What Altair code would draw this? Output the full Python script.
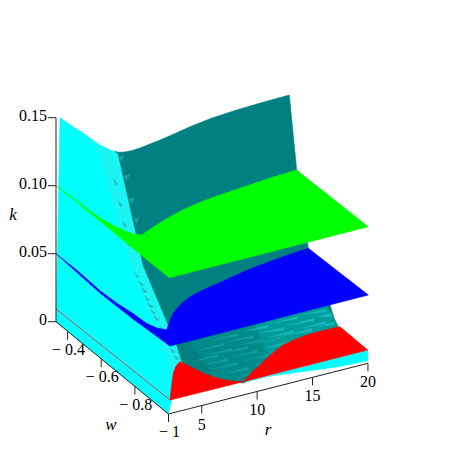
import altair as alt
import pandas as pd

W, H = 447, 456

# Projected outlines of the surfaces (picture coordinates of the 3D view)
cyan_wall = [(60,117.7),(72,126),(83,133),(92,139.5),(100,145),(108,149),(115,151.7),(118,153),(143,265),(176.7,345),(181,362),(172,398),(168.5,414),(56,321.7)]
cyan_shade = [(95,142),(100,145),(108,149),(115,151.7),(118,153),(143,265),(176.7,345),(181,362),(174,380),(155,325),(128,255)]
teal_wall = [(115,151.7),(120,152.3),(125,152),(132,150.5),(140,148),(150,144),(160,140),(175,133.5),(190,126.7),(212,118),(236.7,110),(262,102.5),(289.3,95),(296.7,170),(308.3,248.3),(325,295),(330,305),(334,318),(338.3,326.7),(320,345),(243.3,383),(200,378),(181.7,361.7),(176.7,345),(143,265),(118,153)]
teal_mid = [(190,342),(327,305),(338,327),(243,382),(215,378)]
teal_light = [(255,325),(327,305),(338,327),(290,350),(270,358)]
red_left = [(170,400),(171.5,386),(173.3,373),(176,366),(180,361.7),(186,364.5),(193,368),(205,374),(216.7,378),(230,381),(243.3,381.7)]
red_right = [(243.3,381.7),(251,373),(260,365),(271,354.5),(283,345),(296,339),(310,334),(325,330),(340,326.7),(367.7,350)]
cyan_strip = [(367.7,350),(368,360.7),(338,366.7),(300,372),(270,376),(245,382)]
blue_sheet = [(56,253.7),(76.7,270),(88,280),(100,290.7),(118,304),(133,313.5),(146,323),(156.7,328),(166.7,330),(169,323),(173.3,313),(181,304),(190,296.7),(203,290),(216.7,284),(232,277),(250,269),(278,258.5),(308.3,248.3),(368.3,295),(170,346),(133,319),(100,293)]
green_sheet = [(56.7,186),(78,202),(100,218),(118,228),(133.3,234),(141.7,235),(155,226),(170,216.7),(185,209),(202,201.5),(220,195),(245,186.5),(270,178),(296.7,170),(368.3,226.7),(169.3,277.7),(138,252.5),(118,236),(100,221)]
red_line = [(56,309),(170,400)]

# Thin facets of the shaded mesh: three projected corners each
facets_left = [
    (210,341,238,333,238,336),(195,351,224,343,224,346),(205,355,232,348,232,351),
    (190,362,218,354,218,357),(222,353,248,346,248,349),(200,366,228,358,228,361),
    (212,369,238,362,238,365),(222,374,248,367,248,370),(232,378,256,371,256,374),
    (226,342,254,335,254,338),(236,346,262,339,262,342),(232,357,258,350,258,353),
    (242,361,268,354,268,357),(252,345,280,337,280,340),
]
facets_right = [
    (240,332,268,325,268,328),(270,324,298,316,298,319),(300,315,326,309,326,312),
    (256,334,284,327,284,330),(286,326,314,318,314,321),(316,317,332,313,332,317),
    (266,338,294,330,294,333),(298,329,326,321,326,324),(284,336,312,328,312,331),
    (315,327,334,322,334,325),(262,349,290,341,290,344),(294,340,322,332,322,335),
    (272,353,300,345,300,348),(252,366,278,359,278,362),(282,358,306,350,306,353),
    (260,370,282,363,282,366),
]
facets_edge = [
    (118,157,124,155,122,162),(123,176,130,174,127,181),(128,199,135,197,132,204),(133,219,139,217,137,224),
]
facets_wall = [
    (134,272,140,277,137,278),(141,287,148,292,144,293),(147,302,154,307,150,308),
    (153,315,160,320,156,321),(159,326,165,330,162,331),(170,348,176,352,172,353),
    (174,355,180,359,176,360),(138,280,144,285,141,286),(144,295,150,300,147,301),
    (150,309,156,313,153,314),(127,240,132,246,129,247),(122,220,127,226,124,227),
    (118,200,123,206,120,207),(113,178,118,184,115,185),
]

# Axes: tick values
k_ticks = [0, 0.05, 0.10, 0.15]
k_labels = ["0", "0.05", "0.10", "0.15"]
w_ticks = [-0.4, -0.6, -0.8, -1.0]
w_labels = ["\u2212 0.4", "\u2212 0.6", "\u2212 0.8", "\u2212 1"]
r_ticks = [5, 10, 15, 20]
r_labels = ["5", "10", "15", "20"]
titles = ["k", "w", "r"]
title_x = [13, 111, 268]
title_y = [215, 425, 430]

SERIF = "Liberation Serif"
def kp(k): return 56.0, 321.7 - k * 1360
def wp(w): return 168.5 - (w + 1) * 168.2, 414 - (w + 1) * 137
def rp(r): return 168.5 + (r - 2) * 11.08, 414 - (r - 2) * 2.817

xs = alt.Scale(domain=[8, 8 + W], range=[0, W], nice=False, zero=False)
ys = alt.Scale(domain=[8, 8 + H], range=[0, H], nice=False, zero=False)
X = alt.X("x:Q", scale=xs, axis=None)
Y = alt.Y("y:Q", scale=ys, axis=None)

def shape(polys, color, opacity=1.0, sw=0.6):
    rows = []
    for i, p in enumerate(polys):
        for j, (a, b) in enumerate(p):
            rows.append({"x": a, "y": b, "id": i, "o": j})
    return alt.Chart(pd.DataFrame(rows)).mark_line(
        interpolate="linear-closed", fill=color, stroke=color,
        strokeWidth=sw, fillOpacity=opacity, strokeOpacity=opacity if sw else 0,
    ).encode(x=X, y=Y, detail="id:N", order="o:Q")

def tri(f):
    return [[(t[0], t[1]), (t[2], t[3]), (t[4], t[5])] for t in f]

def segs(pairs, width=1.0, color="#222222"):
    df = pd.DataFrame([{"x": a[0], "y": a[1], "x2": b[0], "y2": b[1]} for a, b in pairs])
    return alt.Chart(df).mark_rule(color=color, strokeWidth=width).encode(x=X, y=Y, x2="x2:Q", y2="y2:Q")

def labels(rows, align, italic=False, size=16):
    df = pd.DataFrame(rows, columns=["x", "y", "t"])
    return alt.Chart(df).mark_text(font=SERIF, fontSize=size, align=align, baseline="middle",
                                   color="black", fontStyle="italic" if italic else "normal").encode(x=X, y=Y, text="t:N")

axis_pairs = [(kp(0), kp(0.15)), (kp(0), wp(-1)), (wp(-1), rp(20))]
tick_pairs = (
    [(kp(k), (kp(k)[0] - 8, kp(k)[1])) for k in k_ticks]
    + [(wp(w), (wp(w)[0], wp(w)[1] + 8)) for w in w_ticks]
    + [(rp(r), (rp(r)[0], rp(r)[1] + 8)) for r in r_ticks]
)

k_rows = [(47, kp(k)[1] - 2, s) for k, s in zip(k_ticks, k_labels)]
w_rows = [(wp(w)[0] + 1, wp(w)[1] + 18, s) for w, s in zip(w_ticks, w_labels)]
r_rows = [(rp(r)[0], rp(r)[1] + 19, s) for r, s in zip(r_ticks, r_labels)]
t_rows = list(zip(title_x, title_y, titles))

layers = [
    shape([cyan_wall], "#00FFFF"),
    shape([cyan_shade], "#2FEDED", 0.6, 0),
    shape(tri(facets_wall), "#2F9F9F", 0.65, 0),
    shape([teal_wall], "#008080"),
    shape([teal_mid], "#008C8C", 0.9, 0),
    shape([teal_light], "#00A0A0", 0.8, 0),
    shape(tri(facets_edge), "#2A9C9C", 0.9, 0),
    shape(tri(facets_left), "#12A0A0", 0.8, 0),
    shape(tri(facets_right), "#14BEBE", 0.85, 0),
    shape([cyan_strip], "#00FFFF"),
    shape([red_left, red_right], "#FF0000"),
    shape([blue_sheet], "#0000FF"),
    shape([green_sheet], "#00FF00"),
    segs([(tuple(red_line[0]), tuple(red_line[1]))], 1.0, "#D04848"),
    segs(axis_pairs + tick_pairs),
    labels(k_rows, "right"),
    labels(w_rows, "center"),
    labels(r_rows, "center"),
    labels(t_rows, "center", italic=True, size=17),
]

chart = alt.layer(*layers).properties(
    width=W, height=H, padding=0, autosize=alt.AutoSizeParams(type="none")
).configure_view(stroke=None)

chart.save("out.html", embed_options={"renderer": "svg", "actions": False})
